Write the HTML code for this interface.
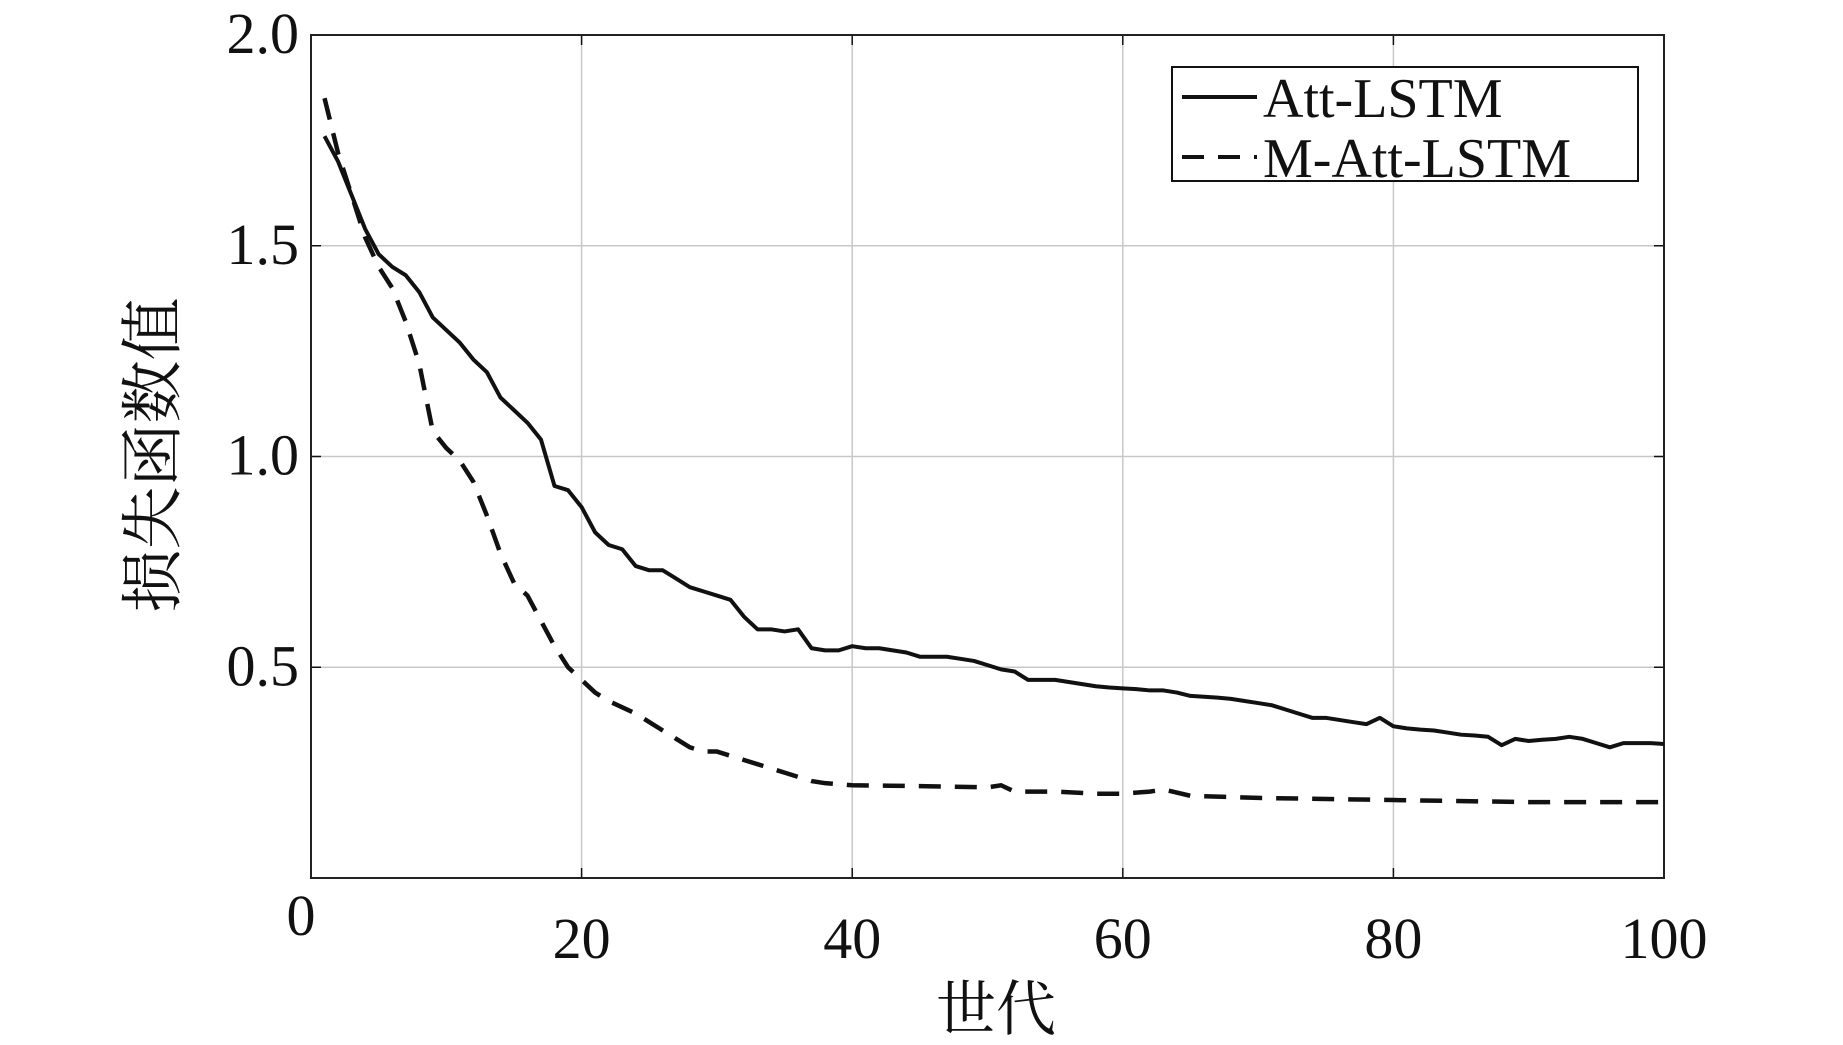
<!DOCTYPE html>
<html><head><meta charset="utf-8"><style>
html,body{margin:0;padding:0;background:#fff;}
svg{display:block;}
text{font-family:"Liberation Serif","Noto Serif CJK SC",serif;fill:#111;}
</style></head><body>
<svg id="chart" width="1843" height="1045">
<g id="grid"></g>
<g id="axes"></g>
<g id="series"></g>
<text x="160" y="455" font-size="63" text-anchor="middle" dominant-baseline="middle" transform="rotate(-90 160 455)">损失函数值</text>
<text x="996" y="1030" font-size="60" text-anchor="middle">世代</text>
<g>
<rect x="1172" y="67" width="466" height="114" fill="#fff" stroke="#111" stroke-width="2"/>
<line x1="1182" y1="97" x2="1257" y2="97" stroke="#111" stroke-width="4"/>
<text x="1263" y="117" font-size="56">Att-LSTM</text>
<line x1="1182" y1="157" x2="1257" y2="157" stroke="#111" stroke-width="4" stroke-dasharray="22,14"/>
<text x="1263" y="177" font-size="56">M-Att-LSTM</text>
</g>
</svg>
<script>
const xTicks=[0,20,40,60,80,100];
const yTicks=[0.5,1.0,1.5,2.0];
const yTickLabels=["0.5","1.0","1.5","2.0"];
const attX=[1,2,3,4,5,6,7,8,9,10,11,12,13,14,15,16,17,18,19,20,21,22,23,24,25,26,27,28,29,30,31,32,33,34,35,36,37,38,39,40,41,42,43,44,45,46,47,48,49,50,51,52,53,54,55,56,57,58,59,60,61,62,63,64,65,66,67,68,69,70,71,72,73,74,75,76,77,78,79,80,81,82,83,84,85,86,87,88,89,90,91,92,93,94,95,96,97,98,99,100];
const attY=[1.76,1.70,1.62,1.54,1.48,1.45,1.43,1.39,1.33,1.30,1.27,1.23,1.20,1.14,1.11,1.08,1.04,0.93,0.92,0.88,0.82,0.79,0.78,0.74,0.73,0.73,0.71,0.69,0.68,0.67,0.66,0.62,0.59,0.59,0.585,0.59,0.545,0.54,0.54,0.55,0.545,0.545,0.54,0.535,0.525,0.525,0.525,0.52,0.515,0.505,0.495,0.49,0.47,0.47,0.47,0.465,0.46,0.455,0.452,0.45,0.448,0.445,0.445,0.44,0.432,0.43,0.428,0.425,0.42,0.415,0.41,0.40,0.39,0.38,0.38,0.375,0.37,0.365,0.38,0.36,0.355,0.352,0.35,0.345,0.34,0.338,0.335,0.315,0.33,0.325,0.328,0.33,0.335,0.33,0.32,0.31,0.32,0.32,0.32,0.318];
const mX=[1,2,3,4,5,6,7,8,9,10,11,12,13,14,15,16,17,18,19,20,21,22,23,24,25,26,27,28,29,30,31,32,33,34,35,36,37,38,40,45,50,51,52,55,58,60,62,63,65,70,80,90,100];
const mY=[1.85,1.72,1.62,1.52,1.45,1.40,1.32,1.22,1.06,1.02,0.99,0.94,0.86,0.77,0.70,0.67,0.61,0.55,0.50,0.47,0.44,0.42,0.405,0.39,0.37,0.35,0.33,0.31,0.30,0.30,0.29,0.28,0.27,0.26,0.25,0.24,0.23,0.225,0.22,0.218,0.215,0.22,0.205,0.205,0.20,0.20,0.205,0.21,0.195,0.19,0.185,0.18,0.18];
const L=311,R=1664,T=35,B=878;
const sx=v=>L+(v-0)/(100-0)*(R-L);
const sy=v=>B-(v-0)/(2-0)*(B-T);
const NS="http://www.w3.org/2000/svg";
function mk(tag,parent,attrs){const e=document.createElementNS(NS,tag);for(const k in attrs)e.setAttribute(k,attrs[k]);parent.appendChild(e);return e;}
const grid=document.getElementById('grid'),axes=document.getElementById('axes'),series=document.getElementById('series');
xTicks.forEach(t=>{
  if(t>0&&t<100){const g=mk('line',grid,{x1:sx(t),x2:sx(t),y1:T,y2:B,stroke:'#c8c8c8','stroke-width':1.5});
  
  }
  const tx=mk('text',axes,{x:t===0?sx(t)-10:sx(t),y:t===0?935:958,'font-size':58,'text-anchor':'middle'});
  tx.textContent=String(t);
  
  
  mk('line',axes,{x1:sx(t),x2:sx(t),y1:T,y2:T+10,stroke:'#111','stroke-width':1.5});
  mk('line',axes,{x1:sx(t),x2:sx(t),y1:B,y2:B-10,stroke:'#111','stroke-width':1.5});
});
yTicks.forEach((t,i)=>{
  if(t<2){const g=mk('line',grid,{x1:L,x2:R,y1:sy(t),y2:sy(t),stroke:'#c8c8c8','stroke-width':1.5});
  
  }
  const tx=mk('text',axes,{x:L-12,y:sy(t)+18,'font-size':58,'text-anchor':'end'});
  tx.textContent=yTickLabels[i];
  
  
  mk('line',axes,{x1:L,x2:L+10,y1:sy(t),y2:sy(t),stroke:'#111','stroke-width':1.5});
  mk('line',axes,{x1:R,x2:R-10,y1:sy(t),y2:sy(t),stroke:'#111','stroke-width':1.5});
});
const frame=mk('rect',axes,{x:L,y:T,width:R-L,height:B-T,fill:'none',stroke:'#222','stroke-width':2});


const p1=mk('polyline',series,{points:attX.map((x,i)=>sx(x)+','+sy(attY[i])).join(' '),fill:'none',stroke:'#111','stroke-width':4,'stroke-linejoin':'round'});


const p2=mk('polyline',series,{points:mX.map((x,i)=>sx(x)+','+sy(mY[i])).join(' '),fill:'none',stroke:'#111','stroke-width':4.5,'stroke-dasharray':'22,14'});


</script>
</body></html>
